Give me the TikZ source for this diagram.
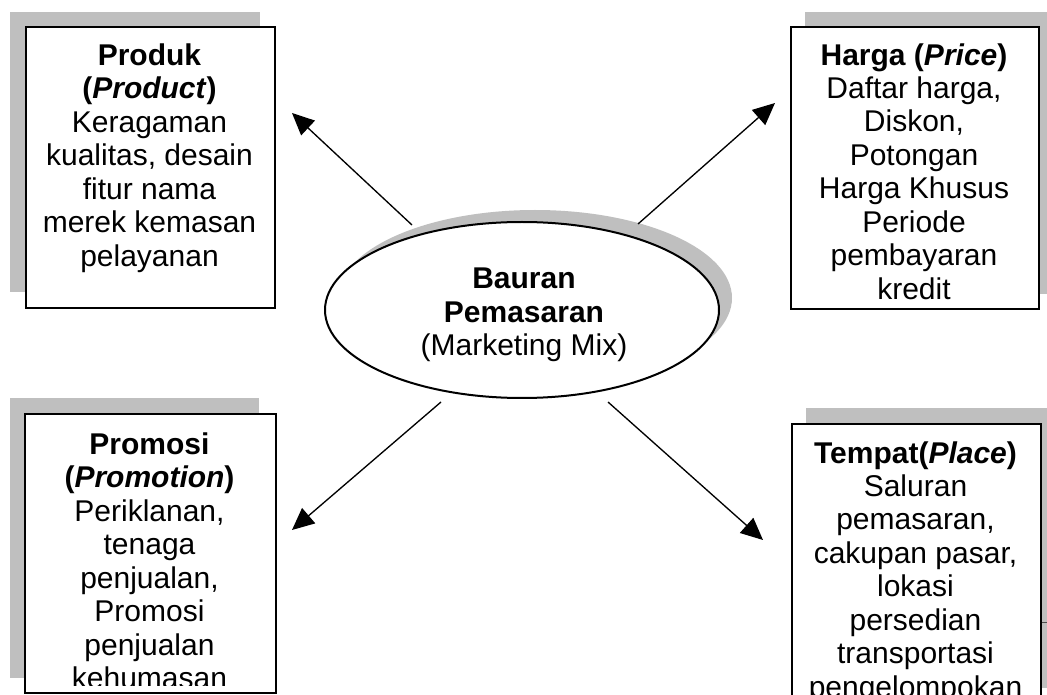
\documentclass[tikz,border=0pt]{standalone}
\usepackage{fontspec}
\setmainfont{Liberation Sans}
\usetikzlibrary{positioning, arrows.meta, shapes.geometric}

\begin{document}
\begin{tikzpicture}[
  x=0.75pt, y=-0.75pt,
  every node/.style={font=\fontsize{22.5}{25.1}\selectfont},
  bx/.style={draw, line width=1.5pt, fill=white, anchor=north west, inner sep=0pt},
  tx/.style={align=center, anchor=north, inner sep=0pt},
  sh/.style={fill=black!25, draw=none},
  ell/.style={draw, ellipse, line width=1.5pt, fill=white, minimum width=295.5pt, minimum height=132pt, inner sep=0pt},
  ar/.style={-{Triangle[length=16.5pt, width=15pt]}, line width=1pt},
]
\useasboundingbox (0,0) rectangle (1047,695);
\clip (0,0) rectangle (1047,695);

% Centre - Bauran Pemasaran
\fill[sh] (535,298) ellipse [x radius=147.75pt, y radius=66pt];
\node[ell] (bauran) at (522,310) {};
\node[align=center, inner sep=0pt] (bauran-t) at (524,315) {\textbf{Bauran}\\\textbf{Pemasaran}\\(Marketing Mix)};

% Top left - Produk
\fill[sh] (10,12) rectangle (260,292);
\node[bx, minimum width=186.75pt, minimum height=210.75pt] (produk) at (25,26) {};
\node[tx] (produk-t) at (149.5,43.5) {\textbf{Produk}\\\textbf{(\textit{Product})}\\Keragaman\\kualitas, desain\\fitur nama\\merek kemasan\\pelayanan};

% Top right - Harga
\fill[sh] (805,12) rectangle (1053,294);
\node[bx, minimum width=186pt, minimum height=211.5pt] (harga) at (790,26) {};
\node[tx] (harga-t) at (914,43) {\textbf{Harga (\textit{Price})}\\Daftar harga,\\Diskon,\\Potongan\\Harga Khusus\\Periode\\pembayaran\\kredit};

% Bottom left - Promosi
\fill[sh] (10,398) rectangle (259,678);
\node[bx, minimum width=188.25pt, minimum height=209.25pt] (promosi) at (24,413) {};
\begin{scope}
  \clip (24,413) rectangle (275,685);
  \node[tx] (promosi-t) at (149.5,432.5) {\textbf{Promosi}\\\textbf{(\textit{Promotion})}\\Periklanan,\\tenaga\\penjualan,\\Promosi\\penjualan\\kehumasan};
\end{scope}

% Bottom right - Tempat
\fill[sh] (806,408) rectangle (1055,688);
\node[bx, minimum width=186.75pt, minimum height=210pt] (tempat) at (791,423) {};
\node[tx] (tempat-t) at (915.5,441) {\textbf{Tempat(\textit{Place})}\\Saluran\\pemasaran,\\cakupan pasar,\\lokasi\\persedian\\transportasi\\pengelompokan};
\draw[black!70, line width=0.75pt] (tempat.east |- 0,622) -- (1047,622);

% Arrows from the centre
\coordinate (a1) at (412,225);
\coordinate (b1) at (292,113);
\coordinate (a2) at (638,224);
\coordinate (b2) at (775,103);
\coordinate (a3) at (441,402);
\coordinate (b3) at (292,530);
\coordinate (a4) at (608,402);
\coordinate (b4) at (763,540);
\draw[ar] (a1) -- (b1);
\draw[ar] (a2) -- (b2);
\draw[ar] (a3) -- (b3);
\draw[ar] (a4) -- (b4);
\end{tikzpicture}
\end{document}
